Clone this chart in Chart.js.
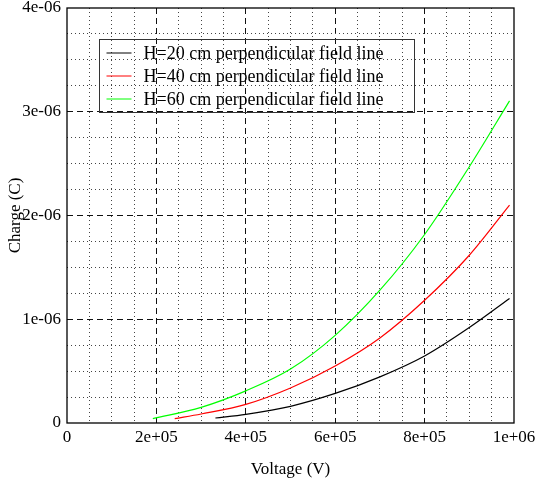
<!DOCTYPE html>
<html>
<head>
<meta charset="utf-8">
<script src="https://cdn.jsdelivr.net/npm/chart.js@4"></script>
<style>
  html, body { margin: 0; padding: 0; background: #fff; }
  canvas { display: block; }
</style>
</head>
<body>
<canvas id="grafica" width="537" height="488"></canvas>
<script>
/* series read as (voltage, charge) pairs */
const voltaje_h20 = [3.32e5, 4e5, 5e5, 6e5, 7e5, 8e5, 9e5, 9.9e5];
const carga_h20   = [0.048e-6, 0.084e-6, 0.161e-6, 0.285e-6, 0.445e-6, 0.646e-6, 0.92e-6, 1.2e-6];

const voltaje_h40 = [2.41e5, 3e5, 4e5, 5e5, 6e5, 7e5, 8e5, 9e5, 9.9e5];
const carga_h40   = [0.042e-6, 0.087e-6, 0.18e-6, 0.338e-6, 0.55e-6, 0.82e-6, 1.183e-6, 1.617e-6, 2.1e-6];

const voltaje_h60 = [1.92e5, 3e5, 4e5, 5e5, 6e5, 7e5, 8e5, 9e5, 9.9e5];
const carga_h60   = [0.042e-6, 0.151e-6, 0.31e-6, 0.52e-6, 0.845e-6, 1.28e-6, 1.817e-6, 2.47e-6, 3.105e-6];

const etiquetas_series = [
    'H=20 cm perpendicular field line',
    'H=40 cm perpendicular field line',
    'H=60 cm perpendicular field line'
];
const colores_series = ['#000000', '#ff0000', '#00ff00'];

const etiquetas_x = { 0: '0', 200000: '2e+05', 400000: '4e+05', 600000: '6e+05', 800000: '8e+05', 1000000: '1e+06' };
const etiquetas_y = ['0', '1e-06', '2e-06', '3e-06', '4e-06'];

const FUENTE = 'Liberation Serif';

const pares = (xs, ys) => xs.map((x, i) => ({ x, y: ys[i] }));

const es_borde = (v, max) => Math.abs(v) < max * 1e-6 || Math.abs(v - max) < max * 1e-6;

/* frame around the plot and the boxed legend in the upper left */
const marco_leyenda = {
    id: 'marco_leyenda',
    afterDatasetsDraw(chart) {
        const { ctx, chartArea: a } = chart;
        ctx.save();
        ctx.strokeStyle = '#000';
        ctx.lineWidth = 1.3;
        ctx.setLineDash([]);
        ctx.strokeRect(a.left, a.top, a.right - a.left, a.bottom - a.top);

        const x0 = Math.round(a.left + 32) + 0.5;
        const y0 = Math.round(a.top + 31) + 0.5;
        ctx.lineWidth = 1;
        ctx.strokeStyle = '#333';
        ctx.strokeRect(x0, y0, 315, 73);

        ctx.font = `18px "${FUENTE}"`;
        ctx.textBaseline = 'middle';
        ctx.fillStyle = '#000';
        chart.data.datasets.forEach((ds, i) => {
            const y = y0 + 13.5 + i * 23;
            ctx.strokeStyle = ds.borderColor;
            ctx.lineWidth = 1;
            ctx.beginPath();
            ctx.moveTo(x0 + 7, y);
            ctx.lineTo(x0 + 32, y);
            ctx.stroke();
            ctx.fillText(ds.label, x0 + 44, y + 1);
        });
        ctx.restore();
    }
};

new Chart(document.getElementById('grafica'), {
    type: 'line',
    data: {
        datasets: [
            { label: etiquetas_series[0], data: pares(voltaje_h20, carga_h20) },
            { label: etiquetas_series[1], data: pares(voltaje_h40, carga_h40) },
            { label: etiquetas_series[2], data: pares(voltaje_h60, carga_h60) }
        ].map((ds, i) => ({
            ...ds,
            borderColor: colores_series[i],
            backgroundColor: colores_series[i],
            borderWidth: 1.2,
            pointRadius: 0,
            cubicInterpolationMode: 'monotone',
            fill: false
        }))
    },
    options: {
        responsive: false,
        animation: false,
        devicePixelRatio: 1,
        layout: { padding: { top: 8, right: 23, left: 0, bottom: 0 } },
        plugins: { legend: { display: false }, tooltip: { enabled: false } },
        scales: {
            x: {
                type: 'linear',
                position: 'bottom',
                min: 0,
                max: 1e6,
                /* fixed height, and no extra room for the end labels */
                afterFit: s => { s.height = 65; s.paddingLeft = 0; s.paddingRight = 0; },
                ticks: {
                    stepSize: 2e5,
                    autoSkip: false,
                    color: '#000',
                    padding: 4,
                    maxRotation: 0,
                    font: { family: FUENTE, size: 17 },
                    callback: v => etiquetas_x[v] ?? ''
                },
                grid: {
                    drawTicks: false,
                    lineWidth: 1,
                    color: c => es_borde(c.tick.value, 1e6) ? 'transparent' : '#111'
                },
                border: { display: false, dash: [6, 4] },
                title: {
                    display: true,
                    text: 'Voltage (V)',
                    color: '#000',
                    font: { family: FUENTE, size: 17 },
                    padding: { top: 0, bottom: 8 }
                }
            },
            x_menor: {
                type: 'linear',
                position: 'top',
                min: 0,
                max: 1e6,
                afterFit: s => { s.height = 0; s.paddingLeft = 0; s.paddingRight = 0; },
                ticks: { stepSize: 5e4, display: false, autoSkip: false },
                grid: {
                    drawTicks: false,
                    lineWidth: 1,
                    color: c => (Math.round(c.tick.value / 5e4) % 4 === 0) ? 'transparent' : '#444'
                },
                border: { display: false, dash: [1, 3] }
            },
            y: {
                type: 'linear',
                position: 'left',
                min: 0,
                max: 4e-6,
                afterFit: s => { s.width = 67; s.paddingTop = 0; s.paddingBottom = 0; },
                ticks: {
                    stepSize: 1e-6,
                    autoSkip: false,
                    color: '#000',
                    padding: 6,
                    font: { family: FUENTE, size: 17 },
                    callback: (v) => etiquetas_y[Math.round(v / 1e-6)] ?? ''
                },
                grid: {
                    drawTicks: false,
                    lineWidth: 1,
                    color: c => es_borde(c.tick.value, 4e-6) ? 'transparent' : '#111'
                },
                border: { display: false, dash: [6, 4] },
                title: {
                    display: true,
                    text: 'Charge (C)',
                    color: '#000',
                    font: { family: FUENTE, size: 17 },
                    padding: { top: 5, bottom: 0 }
                }
            },
            y_menor: {
                type: 'linear',
                position: 'right',
                min: 0,
                max: 4e-6,
                afterFit: s => { s.width = 0; s.paddingTop = 0; s.paddingBottom = 0; },
                ticks: { stepSize: 2.5e-7, display: false, autoSkip: false },
                grid: {
                    drawTicks: false,
                    lineWidth: 1,
                    color: c => (Math.round(c.tick.value / 2.5e-7) % 4 === 0) ? 'transparent' : '#444'
                },
                border: { display: false, dash: [1, 3] }
            }
        }
    },
    plugins: [marco_leyenda]
});
</script>
</body>
</html>
